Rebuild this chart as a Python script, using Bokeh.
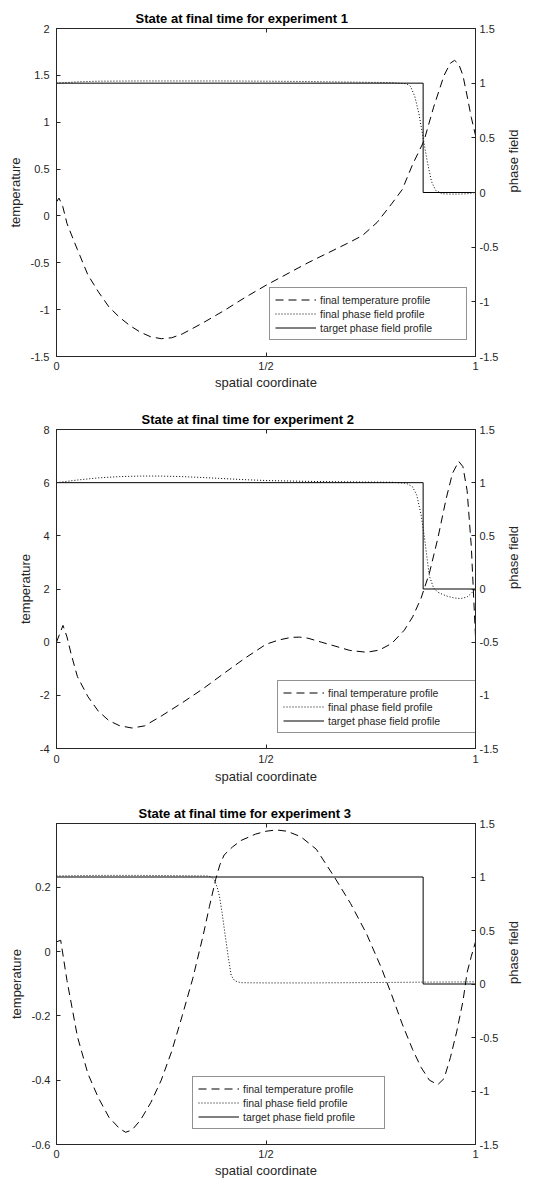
import math
from bokeh.plotting import figure
from bokeh.models import Range1d, LinearAxis, FixedTicker, Legend, LegendItem
from bokeh.layouts import column
from bokeh.embed import file_html
from bokeh.resources import INLINE

FONT = "Liberation Sans"
INK = "#262626"

# ---------------- data ----------------
x_ticks = [0, 0.5, 1]
x_tick_labels = ["0", "1/2", "1"]
phase_ticks = [-1.5, -1, -0.5, 0, 0.5, 1, 1.5]
phase_tick_labels = ["-1.5", "-1", "-0.5", "0", "0.5", "1", "1.5"]

target_x = [0.0, 0.875, 0.875, 1.0]
target_phase = [1.0, 1.0, 0.0, 0.0]

legend_labels = ["final temperature profile", "final phase field profile", "target phase field profile"]

# experiment 1
exp1_temp_ticks = [-1.5, -1, -0.5, 0, 0.5, 1, 1.5, 2]
exp1_temp_tick_labels = ["-1.5", "-1", "-0.5", "0", "0.5", "1", "1.5", "2"]
exp1_x = [0.000, 0.006, 0.015, 0.025, 0.040, 0.050, 0.075, 0.100, 0.125, 0.150, 0.175,
          0.200, 0.225, 0.250, 0.275, 0.300, 0.325, 0.350, 0.400, 0.450, 0.500, 0.550,
          0.600, 0.650, 0.700, 0.730, 0.765, 0.800, 0.825, 0.850, 0.877, 0.900, 0.925,
          0.940, 0.950, 0.960, 0.970, 0.980, 0.990, 1.000]
exp1_temp = [0.15, 0.19, 0.10, -0.08, -0.25, -0.36, -0.63, -0.81, -0.97, -1.08, -1.17,
             -1.24, -1.29, -1.31, -1.30, -1.26, -1.20, -1.14, -1.01, -0.87, -0.74, -0.62,
             -0.50, -0.39, -0.28, -0.21, -0.07, 0.13, 0.28, 0.55, 0.80, 1.16, 1.50,
             1.63, 1.66, 1.62, 1.50, 1.28, 1.05, 0.86]
exp1_phase_x = [0.00, 0.05, 0.10, 0.20, 0.30, 0.40, 0.50, 0.60, 0.70, 0.80, 0.835, 0.845,
                0.855, 0.865, 0.875, 0.885, 0.895, 0.905, 0.92, 0.95, 0.98, 1.00]
exp1_phase = [1.00, 1.012, 1.018, 1.02, 1.02, 1.02, 1.018, 1.015, 1.01, 1.005, 0.995, 0.97,
              0.88, 0.72, 0.50, 0.28, 0.10, 0.02, -0.012, -0.015, -0.012, 0.00]

# experiment 2
exp2_temp_ticks = [-4, -2, 0, 2, 4, 6, 8]
exp2_temp_tick_labels = ["-4", "-2", "0", "2", "4", "6", "8"]
exp2_x = [0.000, 0.0155, 0.025, 0.035, 0.050, 0.075, 0.100, 0.125, 0.150, 0.180, 0.210,
          0.250, 0.300, 0.350, 0.400, 0.450, 0.500, 0.530, 0.560, 0.580, 0.600, 0.632,
          0.650, 0.700, 0.740, 0.770, 0.800, 0.830, 0.850, 0.870, 0.890, 0.910, 0.930,
          0.945, 0.960, 0.970, 0.980, 0.990, 1.000]
exp2_temp = [0.00, 0.63, 0.20, -0.45, -1.30, -2.05, -2.60, -2.95, -3.14, -3.23, -3.15,
             -2.78, -2.28, -1.75, -1.17, -0.60, -0.08, 0.08, 0.18, 0.19, 0.15, 0.00,
             -0.08, -0.31, -0.38, -0.30, -0.05, 0.45, 0.95, 1.65, 2.60, 3.90, 5.40,
             6.35, 6.80, 6.60, 5.70, 3.60, 0.20]
exp2_phase_x = [0.00, 0.05, 0.10, 0.15, 0.20, 0.25, 0.30, 0.35, 0.40, 0.45, 0.50, 0.60,
                0.70, 0.80, 0.835, 0.85, 0.86, 0.87, 0.878, 0.885, 0.89, 0.90, 0.91,
                0.93, 0.95, 0.965, 0.98, 0.99, 1.00]
exp2_phase = [1.00, 1.025, 1.045, 1.057, 1.062, 1.062, 1.057, 1.048, 1.038, 1.028, 1.02,
              1.012, 1.007, 1.004, 0.995, 0.96, 0.88, 0.70, 0.49, 0.27, 0.12, 0.01, -0.03,
              -0.065, -0.085, -0.09, -0.075, -0.04, 0.00]

# experiment 3
exp3_temp_ticks = [-0.6, -0.4, -0.2, 0, 0.2]
exp3_temp_tick_labels = ["-0.6", "-0.4", "-0.2", "0", "0.2"]
exp3_x = [0.000, 0.010, 0.025, 0.050, 0.075, 0.100, 0.125, 0.150, 0.165, 0.180, 0.200,
          0.225, 0.250, 0.275, 0.300, 0.325, 0.350, 0.365, 0.380, 0.390, 0.400, 0.420,
          0.440, 0.475, 0.500, 0.525, 0.550, 0.583, 0.620, 0.663, 0.702, 0.740, 0.775,
          0.800, 0.825, 0.850, 0.870, 0.890, 0.910, 0.925, 0.940, 0.955, 0.970, 0.980,
          0.990, 1.000]
exp3_temp = [0.030, 0.035, -0.090, -0.265, -0.380, -0.455, -0.515, -0.550, -0.562, -0.555,
             -0.525, -0.470, -0.400, -0.310, -0.200, -0.085, 0.050, 0.140, 0.225, 0.270,
             0.300, 0.325, 0.345, 0.365, 0.374, 0.378, 0.374, 0.357, 0.318, 0.232, 0.149,
             0.055, -0.050, -0.135, -0.225, -0.305, -0.360, -0.400, -0.414, -0.395, -0.330,
             -0.250, -0.155, -0.065, -0.015, 0.030]
exp3_phase_x = [0.00, 0.10, 0.20, 0.30, 0.36, 0.370, 0.377, 0.383, 0.389, 0.395, 0.401,
                0.41, 0.417, 0.425, 0.44, 0.50, 0.60, 0.70, 0.80, 0.90, 1.00]
exp3_phase = [1.01, 1.015, 1.015, 1.012, 1.01, 1.0, 0.97, 0.91, 0.82, 0.67, 0.50, 0.25,
              0.08, 0.03, 0.012, 0.01, 0.01, 0.012, 0.015, 0.018, 0.02]


def style_axis(ax, tick_size="11px"):
    ax.axis_line_color = INK
    ax.major_tick_line_color = INK
    ax.minor_tick_line_color = None
    ax.major_tick_in = 4
    ax.major_tick_out = 0
    ax.minor_tick_in = 0
    ax.minor_tick_out = 0
    ax.major_label_text_font = FONT
    ax.major_label_text_font_size = tick_size
    ax.major_label_text_color = INK
    ax.axis_label_text_font = FONT
    ax.axis_label_text_font_size = "13px"
    ax.axis_label_text_font_style = "normal"
    ax.axis_label_text_color = INK


def make_panel(title, tx, temp, px, phase, yr, yticks, ylabels, height, top, bottom,
               left, title_offset, lstand, llabstand, bstand, blabstand, legend_loc, legend_w):
    p = figure(width=537, height=height, x_range=Range1d(0, 1), y_range=Range1d(*yr),
               output_backend="svg", toolbar_location=None,
               min_border_left=left, min_border_right=62, min_border_top=top,
               min_border_bottom=bottom, title=title)
    p.background_fill_color = "white"
    p.border_fill_color = "white"
    p.outline_line_color = INK
    p.xgrid.visible = False
    p.ygrid.visible = False

    p.title.align = "left"
    p.title.offset = title_offset
    p.title.text_font = FONT
    p.title.text_font_size = "13px"
    p.title.text_font_style = "bold"
    p.title.text_color = "black"
    p.title.standoff = 5

    p.extra_y_ranges = {"phase": Range1d(-1.5, 1.5)}

    xa = p.xaxis[0]
    xa.ticker = FixedTicker(ticks=x_ticks)
    xa.major_label_overrides = dict(zip(x_ticks, x_tick_labels))
    xa.axis_label = "spatial coordinate"
    style_axis(xa)
    xa.major_label_standoff = bstand
    xa.axis_label_standoff = blabstand

    ya = p.yaxis[0]
    ya.ticker = FixedTicker(ticks=yticks)
    ya.major_label_overrides = dict(zip(yticks, ylabels))
    ya.axis_label = "temperature"
    style_axis(ya)
    ya.major_label_standoff = lstand
    ya.axis_label_standoff = llabstand

    # top box edge: tick marks only (drawn as minor ticks, so no labels exist)
    top_ax = LinearAxis(ticker=FixedTicker(ticks=[], minor_ticks=x_ticks))
    style_axis(top_ax)
    top_ax.minor_tick_line_color = INK
    top_ax.minor_tick_in = 4
    top_ax.minor_tick_out = 0
    top_ax.major_label_standoff = 0
    p.add_layout(top_ax, "above")

    ra = LinearAxis(y_range_name="phase", ticker=FixedTicker(ticks=phase_ticks))
    ra.major_label_overrides = dict(zip(phase_ticks, phase_tick_labels))
    ra.axis_label = "phase field"
    style_axis(ra)
    ra.major_label_standoff = 4
    ra.axis_label_standoff = 12
    ra.axis_label_orientation = math.pi / 2
    p.add_layout(ra, "right")

    r_t = p.line(tx, temp, line_color="black", line_width=1, line_dash="8 5")
    r_p = p.line(px, phase, line_color="black", line_width=1, line_dash="1 2",
                 y_range_name="phase")
    r_g = p.line(target_x, target_phase, line_color="black", line_width=1,
                 y_range_name="phase")

    leg = Legend(items=[LegendItem(label=legend_labels[0], renderers=[r_t]),
                        LegendItem(label=legend_labels[1], renderers=[r_p]),
                        LegendItem(label=legend_labels[2], renderers=[r_g])],
                 location=legend_loc, padding=5, spacing=1, margin=0,
                 glyph_width=41, glyph_height=13, label_height=13, label_standoff=4,
                 label_width=legend_w - 55,
                 label_text_font=FONT, label_text_font_size="10.5px",
                 label_text_color=INK,
                 border_line_color=INK, border_line_width=1,
                 background_fill_color="white", background_fill_alpha=1)
    p.add_layout(leg)
    return p


p1 = make_panel("State at final time for experiment 1", exp1_x, exp1_temp, exp1_phase_x,
                exp1_phase, (-1.5, 2), exp1_temp_ticks, exp1_temp_tick_labels,
                393, 28, 37, 56, 79, 7, 5, 3, 0, (213, 16), 196)
p2 = make_panel("State at final time for experiment 2", exp2_x, exp2_temp, exp2_phase_x,
                exp2_phase, (-4, 8), exp2_temp_ticks, exp2_temp_tick_labels,
                394, 36, 39, 45, 85, 7, 4, 4, 1, (221, 15), 199)
p3 = make_panel("State at final time for experiment 3", exp3_x, exp3_temp, exp3_phase_x,
                exp3_phase, (-0.6, 0.398), exp3_temp_ticks, exp3_temp_tick_labels,
                393, 36, 36, 55, 82, 6, 5, 3, 0, (136, 15), 191)

layout = column(p1, p2, p3, spacing=0)
open("out.html", "w").write(file_html(layout, INLINE))
